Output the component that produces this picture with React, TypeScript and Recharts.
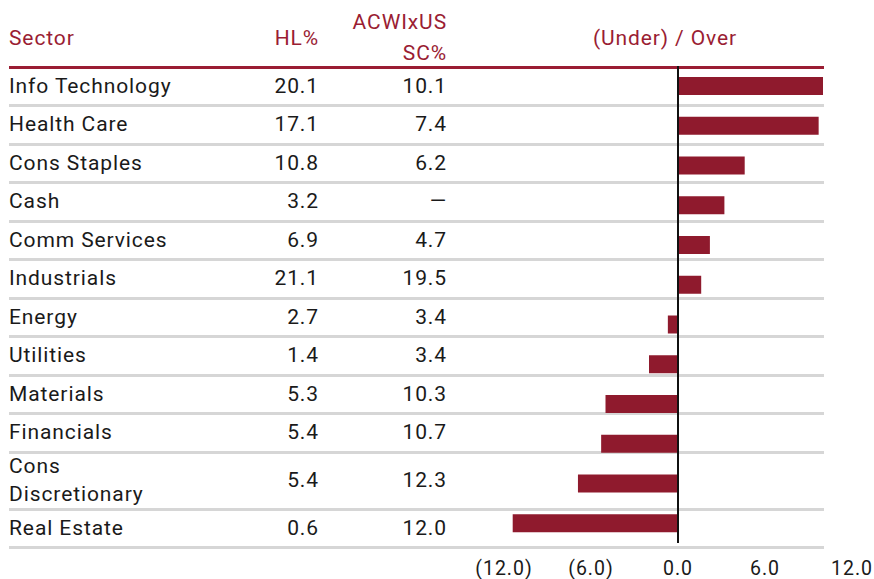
import { BarChart, Bar, XAxis, YAxis, ReferenceLine } from 'recharts';

const sectors = [
    'Info Technology',
    'Health Care',
    'Cons Staples',
    'Cash',
    'Comm Services',
    'Industrials',
    'Energy',
    'Utilities',
    'Materials',
    'Financials',
    'Cons Discretionary',
    'Real Estate',
];
const hlWeights = [20.1, 17.1, 10.8, 3.2, 6.9, 21.1, 2.7, 1.4, 5.3, 5.4, 5.4, 0.6];
const benchWeights = [10.1, 7.4, 6.2, null, 4.7, 19.5, 3.4, 3.4, 10.3, 10.7, 12.3, 12.0];
const underOver = [10.0, 9.7, 4.6, 3.2, 2.2, 1.6, -0.7, -2.0, -5.0, -5.3, -6.9, -11.4];
const xTicks = [-12, -6, 0, 6, 12];

const data = sectors.map((sector, i) => ({ sector, diff: underOver[i] }));

const RED = '#8f1a2d';
const HEAD_RED = '#9a1d33';
const TEXT = '#1a1a1a';
const GRID = '#d6d6d6';
const FONT = 'Roboto, sans-serif';

const fmt = (v: number) => (v < 0 ? `(${Math.abs(v).toFixed(1)})` : v.toFixed(1));

// table row geometry (the two-line row is taller)
const TABLE_TOP = 67;
const ROW_H = 38.5;
const TALL_ROW_H = 57;
const rowHeights = sectors.map((s) => (s === 'Cons Discretionary' ? TALL_ROW_H : ROW_H));
const rowTops = rowHeights.map((_, i) => TABLE_TOP + rowHeights.slice(0, i).reduce((a, b) => a + b, 0));

const cell = { fontSize: 21, letterSpacing: 0.9, color: TEXT, lineHeight: '27.5px' } as const;
const head = { fontSize: 21, letterSpacing: 0.9, color: HEAD_RED } as const;

export default function App() {
    return (
        <div
            style={{
                position: 'absolute',
                left: 0,
                top: 0,
                width: 874,
                height: 579,
                background: '#fff',
                fontFamily: FONT,
                overflow: 'hidden',
            }}
        >
            {/* header */}
            <div style={{ position: 'absolute', left: 9, top: 24, lineHeight: '29px', ...head }}>Sector</div>
            <div style={{ position: 'absolute', right: 874 - 319, top: 24, lineHeight: '29px', textAlign: 'right', ...head }}>
                HL%
            </div>
            <div style={{ position: 'absolute', right: 874 - 447, top: 7, lineHeight: '31px', textAlign: 'right', ...head }}>
                ACWIxUS
                <br />
                SC%
            </div>
            <div style={{ position: 'absolute', left: 520, width: 290, top: 24, lineHeight: '29px', textAlign: 'center', ...head }}>
                (Under) / Over
            </div>
            <div style={{ position: 'absolute', left: 9, top: 66, width: 815, height: 2.5, background: HEAD_RED }} />

            {/* table rows */}
            {sectors.map((s, i) => (
                <div key={s}>
                    <div
                        style={{
                            position: 'absolute',
                            left: 9,
                            top: rowTops[i],
                            height: rowHeights[i],
                            width: 172,
                            display: 'flex',
                            alignItems: 'center',
                            ...cell,
                        }}
                    >
                        {s}
                    </div>
                    <div
                        style={{
                            position: 'absolute',
                            right: 874 - 319,
                            top: rowTops[i],
                            height: rowHeights[i],
                            display: 'flex',
                            alignItems: 'center',
                            ...cell,
                        }}
                    >
                        {hlWeights[i].toFixed(1)}
                    </div>
                    <div
                        style={{
                            position: 'absolute',
                            right: 874 - 447,
                            top: rowTops[i],
                            height: rowHeights[i],
                            display: 'flex',
                            alignItems: 'center',
                            ...cell,
                        }}
                    >
                        {benchWeights[i] === null ? '—' : benchWeights[i]!.toFixed(1)}
                    </div>
                    <div
                        style={{
                            position: 'absolute',
                            left: 9,
                            top: rowTops[i] + rowHeights[i] - 1.5,
                            width: 815,
                            height: 3,
                            background: GRID,
                        }}
                    />
                </div>
            ))}

            {/* bars */}
            <div style={{ position: 'absolute', left: 0, top: 0 }}>
                <BarChart
                    width={874}
                    height={579}
                    data={data}
                    layout="vertical"
                    margin={{ top: 66, right: 22, bottom: 0, left: 504 }}
                    barCategoryGap={0}
                >
                    <XAxis
                        type="number"
                        domain={[-12, 12]}
                        ticks={xTicks}
                        interval={0}
                        tickFormatter={fmt}
                        axisLine={false}
                        tickLine={false}
                        height={36}
                        tick={{ fill: TEXT, fontSize: 19.5, fontFamily: FONT, letterSpacing: 1, dy: 10 }}
                    />
                    <YAxis type="category" dataKey="sector" hide />
                    <Bar dataKey="diff" fill={RED} barSize={18} isAnimationActive={false} />
                    <ReferenceLine x={0} stroke="#111" strokeWidth={2} />
                </BarChart>
            </div>
        </div>
    );
}
